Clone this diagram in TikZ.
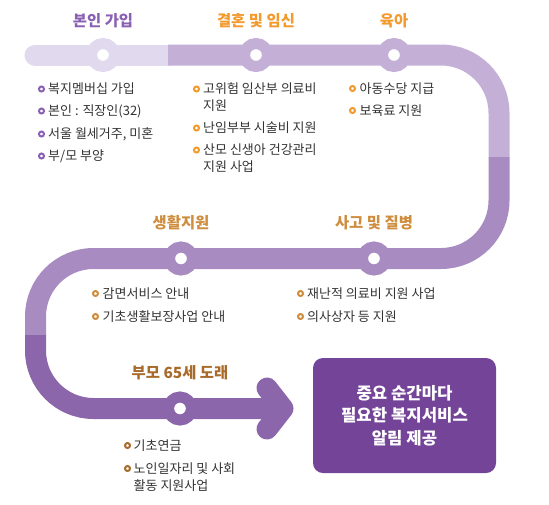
\documentclass[tikz,border=0pt]{standalone}
\usepackage{fontspec}
\setmainfont{Noto Sans CJK KR}
\usetikzlibrary{positioning}
\definecolor{trackA}{HTML}{E1D9ED}
\definecolor{trackB}{HTML}{C4B0D7}
\definecolor{trackC}{HTML}{A88BC0}
\definecolor{trackD}{HTML}{8C66AB}
\definecolor{msgfill}{HTML}{734497}
\definecolor{joinpurple}{HTML}{8A60B3}
\definecolor{lifeorange}{HTML}{F29A2E}
\definecolor{caretan}{HTML}{CF8E3F}
\definecolor{agebrown}{HTML}{A96B2C}
\definecolor{itemgray}{HTML}{333333}

\begin{document}
\begin{tikzpicture}[x=1pt, y=-1pt,
  stage/.style={font=\bfseries\fontsize{15.4}{17}\selectfont, text=#1},
  stop/.style={circle, draw=#1, line width=11pt, fill=white, minimum size=23pt, inner sep=0pt},
  dot/.style={circle, draw=#1, line width=2pt, fill=white, minimum size=5pt, inner sep=0pt},
  item/.style={anchor=west, inner sep=0pt, text=itemgray, font=\fontsize{13}{16}\selectfont},
  track/.style={draw=#1, line width=21pt, rounded corners=58pt},
  msg/.style={rectangle, rounded corners=10pt, fill=msgfill, text=white, align=center,
    minimum width=183pt, minimum height=115pt, font=\bfseries\fontsize{16.7}{22.5}\selectfont}]
\useasboundingbox (0,0) rectangle (549,504);

% the road, light to dark
\draw[track=trackA, line cap=round] (35,55) -- (168,55);
\draw[track=trackB] (168,55) -- (499,55) -- (499,157);
\draw[track=trackC] (499,157) -- (499,258.5) -- (35.5,258.5) -- (35.5,335);
\draw[track=trackD] (35.5,335) -- (35.5,408.5) -- (284,408.5);
\draw[track=trackD, rounded corners=0pt, line cap=round, line join=round] (267,388) -- (283,408.5) -- (267,429);

% stations
\node[stop=trackA] (join) at (103,55) {};
\node[stop=trackB] (wed) at (256,55) {};
\node[stop=trackB] (kid) at (394,55) {};
\node[stop=trackC] (ill) at (374,258.5) {};
\node[stop=trackC] (aid) at (181,258.5) {};
\node[stop=trackD] (old) at (180,408.5) {};

% stage titles
\node[stage=joinpurple] (joinlbl) at (103,21) {본인 가입};
\node[stage=lifeorange] (wedlbl) at (256,21) {결혼 및 임신};
\node[stage=lifeorange] (kidlbl) at (394,21) {육아};
\node[stage=caretan] (aidlbl) at (181,223) {생활지원};
\node[stage=caretan] (illlbl) at (374,223) {사고 및 질병};
\node[stage=agebrown] (oldlbl) at (180,373) {부모 65세 도래};

% lists under each station
\foreach \y/\txt [count=\i] in {89/복지멤버십 가입, 111/{본인 : 직장인(32)}, 134/{서울 월세거주, 미혼}, 156/{부/모 부양}}{
  \node[dot=joinpurple] (jd\i) at (41.5,\y) {};
  \node[item, right=6.5pt of jd\i.center] (ji\i) {\txt};}
\foreach \y/\txt [count=\i] in {89/{고위험 임산부 의료비}, 128/{난임부부 시술비 지원}, 150/{산모 신생아 건강관리}}{
  \node[dot=lifeorange] (wd\i) at (196.5,\y) {};
  \node[item, right=6.5pt of wd\i.center] (wi\i) {\txt};}
\node[item] (wc1) at (203,105.5) {지원};
\node[item] (wc3) at (203,166.5) {지원 사업};
\foreach \y/\txt [count=\i] in {88.5/아동수당 지급, 110.5/보육료 지원}{
  \node[dot=lifeorange] (kd\i) at (352.5,\y) {};
  \node[item, right=7pt of kd\i.center] (ki\i) {\txt};}
\foreach \y/\txt [count=\i] in {293.5/감면서비스 안내, 316.5/기초생활보장사업 안내}{
  \node[dot=caretan] (ad\i) at (95.5,\y) {};
  \node[item, right=7pt of ad\i.center] (ai\i) {\txt};}
\foreach \y/\txt [count=\i] in {293.5/{재난적 의료비 지원 사업}, 316.5/{의사상자 등 지원}}{
  \node[dot=caretan] (id\i) at (300.5,\y) {};
  \node[item, right=6.5pt of id\i.center] (ii\i) {\txt};}
\foreach \y/\txt [count=\i] in {445.5/기초연금, 468.5/{노인일자리 및 사회}}{
  \node[dot=agebrown] (od\i) at (127.5,\y) {};
  \node[item, right=6pt of od\i.center] (oi\i) {\txt};}
\node[item] (oc2) at (133.5,485.5) {활동 지원사업};

% closing message
\node[msg] (note) at (404.5,415.5) {중요 순간마다\\필요한 복지서비스\\알림 제공};
\end{tikzpicture}
\end{document}
